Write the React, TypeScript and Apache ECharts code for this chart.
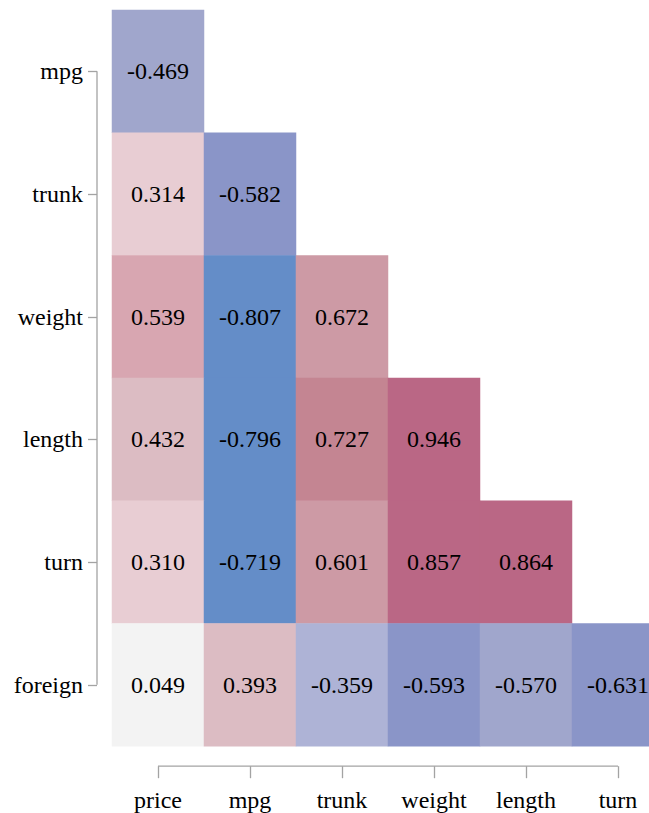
import React, { useEffect, useRef } from "react";
import * as echarts from "echarts";

// Correlation matrix, lower triangle (rows vs. columns)
const columns = ["price", "mpg", "trunk", "weight", "length", "turn"];
const rows = ["mpg", "trunk", "weight", "length", "turn", "foreign"];

// One array per row; null where the triangle has no cell
const rowMpg = [-0.469, null, null, null, null, null];
const rowTrunk = [0.314, -0.582, null, null, null, null];
const rowWeight = [0.539, -0.807, 0.672, null, null, null];
const rowLength = [0.432, -0.796, 0.727, 0.946, null, null];
const rowTurn = [0.31, -0.719, 0.601, 0.857, 0.864, null];
const rowForeign = [0.049, 0.393, -0.359, -0.593, -0.57, -0.631];
const matrix = [rowMpg, rowTrunk, rowWeight, rowLength, rowTurn, rowForeign];

// Binned diverging colour scale
const binEdges = [-0.65, -0.575, -0.4, -0.2, 0.2, 0.35, 0.5, 0.58, 0.7, 0.8];
const binColors = [
  "#648dc8",
  "#8a95c8",
  "#a0a6cc",
  "#aeb3d6",
  "#f3f3f3",
  "#e8cdd3",
  "#dcbcc3",
  "#d8a6b1",
  "#cd9aa5",
  "#c48592",
  "#ba6785",
];

const FONT = "Liberation Serif, Times New Roman, serif";
const AXIS_GRAY = "#a3a3a3";
const GRID_LEFT = 112;
const GRID_TOP = 10;
const CELL_W = 92;
const CELL_H = 122.7;
const Y_OFFSET = 15;
const X_OFFSET = 20;

export default function App() {
  const ref = useRef<HTMLDivElement>(null);

  useEffect(() => {
    if (!ref.current) return;
    const chart = echarts.init(ref.current, undefined, { renderer: "svg" });

    const data: [number, number, number][] = [];
    matrix.forEach((r, yi) =>
      r.forEach((v, xi) => {
        if (v !== null) data.push([xi, yi, v]);
      })
    );

    const pieces = binColors.map((color, i) => {
      const p: any = { color };
      if (i > 0) p.gte = binEdges[i - 1];
      if (i < binEdges.length) p.lt = binEdges[i];
      return p;
    });

    const gridH = CELL_H * rows.length;
    const gridW = CELL_W * columns.length;

    chart.setOption({
      animation: false,
      textStyle: { fontFamily: FONT },
      grid: { left: GRID_LEFT, top: GRID_TOP, width: gridW, height: gridH },
      visualMap: {
        type: "piecewise",
        show: false,
        dimension: 2,
        pieces,
      },
      xAxis: {
        type: "category",
        data: columns,
        position: "bottom",
        offset: X_OFFSET,
        axisLine: { show: false },
        axisTick: {
          show: true,
          alignWithLabel: true,
          length: 12,
          lineStyle: { color: AXIS_GRAY, width: 1.3 },
        },
        axisLabel: { color: "#000", fontSize: 24, fontFamily: FONT, margin: 22 },
        splitLine: { show: false },
      },
      yAxis: {
        type: "category",
        data: rows,
        inverse: true,
        offset: Y_OFFSET,
        axisLine: { show: false },
        axisTick: {
          show: true,
          alignWithLabel: true,
          length: 9,
          lineStyle: { color: AXIS_GRAY, width: 1.3 },
        },
        axisLabel: { color: "#000", fontSize: 24, fontFamily: FONT, margin: 14 },
        splitLine: { show: false },
      },
      series: [
        {
          type: "heatmap",
          data,
          itemStyle: { borderWidth: 0 },
          label: {
            show: true,
            color: "#000",
            fontSize: 24,
            fontFamily: FONT,
            formatter: (p: any) => Number(p.value[2]).toFixed(3),
          },
          emphasis: { disabled: true },
        },
      ],
    });

    // Range-frame axis lines: span from the first to the last category only
    const xFirst = chart.convertToPixel({ xAxisIndex: 0 }, columns[0]) as number;
    const xLast = chart.convertToPixel({ xAxisIndex: 0 }, columns[columns.length - 1]) as number;
    const yFirst = chart.convertToPixel({ yAxisIndex: 0 }, rows[0]) as number;
    const yLast = chart.convertToPixel({ yAxisIndex: 0 }, rows[rows.length - 1]) as number;
    const xAxisY = GRID_TOP + gridH + X_OFFSET;
    const yAxisX = GRID_LEFT - Y_OFFSET;

    chart.setOption({
      graphic: [
        {
          type: "line",
          shape: { x1: xFirst, y1: xAxisY, x2: xLast, y2: xAxisY },
          style: { stroke: AXIS_GRAY, lineWidth: 1.3 },
          silent: true,
        },
        {
          type: "line",
          shape: { x1: yAxisX, y1: yFirst, x2: yAxisX, y2: yLast },
          style: { stroke: AXIS_GRAY, lineWidth: 1.3 },
          silent: true,
        },
      ],
    });

    return () => chart.dispose();
  }, []);

  // The plot area runs past the right edge; the outer box crops it there
  return (
    <div
      style={{
        position: "fixed",
        left: 0,
        top: 0,
        width: 649,
        height: 813,
        overflow: "hidden",
        background: "#fff",
      }}
    >
      <div ref={ref} style={{ width: 700, height: 813 }} />
    </div>
  );
}
